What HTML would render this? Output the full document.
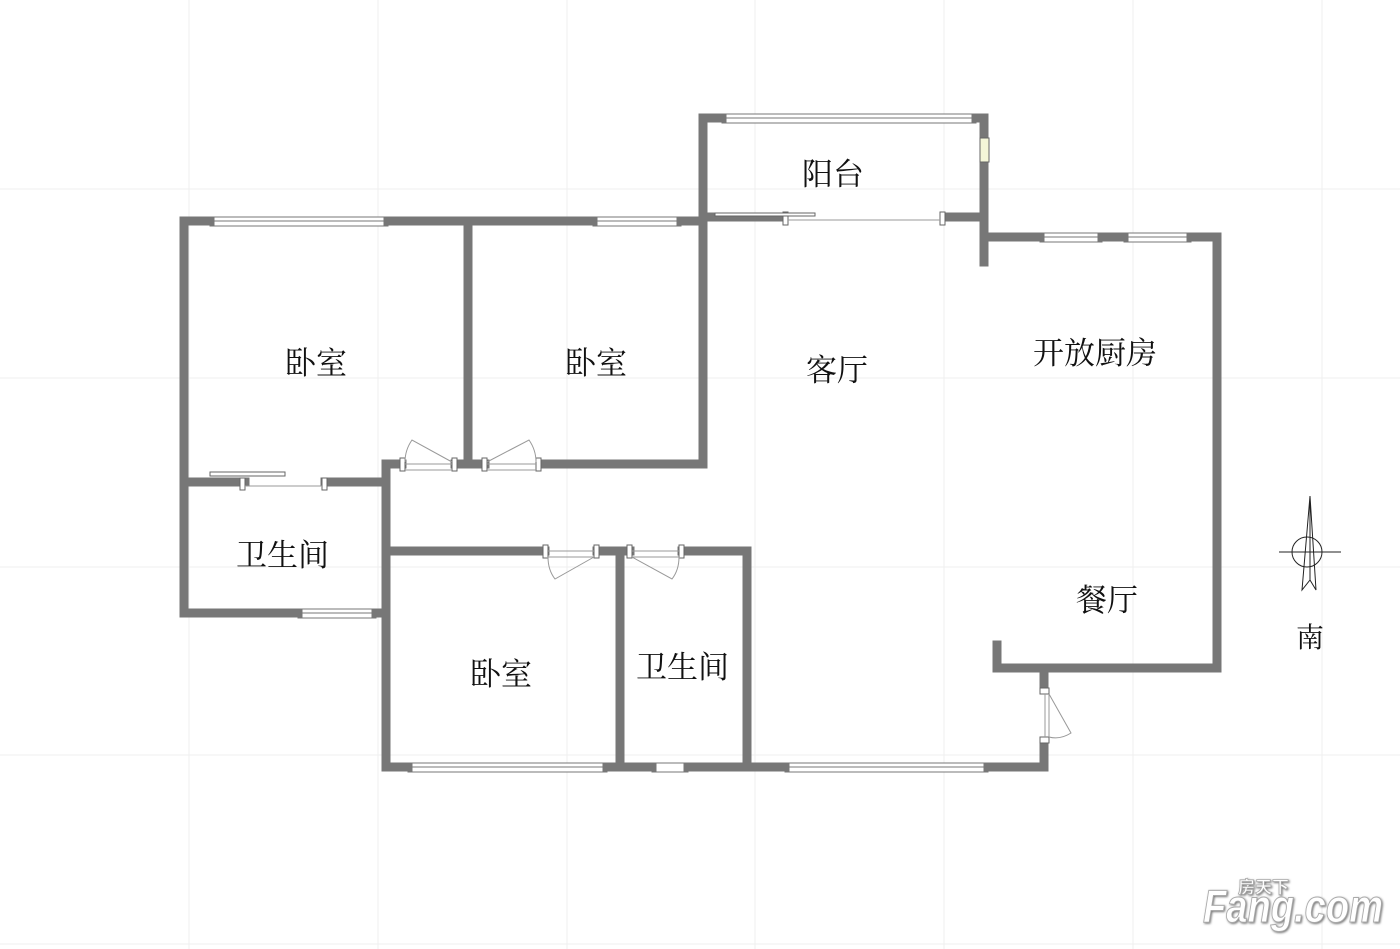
<!DOCTYPE html>
<html><head><meta charset="utf-8"><style>
html,body{margin:0;padding:0;background:#fff;}
svg{display:block;}
text{font-family:"Liberation Serif","Noto Serif CJK SC",serif;fill:#111;font-size:31px;}
</style></head><body>
<svg width="1400" height="949" viewBox="0 0 1400 949" xmlns="http://www.w3.org/2000/svg">
<g stroke="#efefef" stroke-width="1">
<line x1="189" y1="0" x2="189" y2="949"/><line x1="378" y1="0" x2="378" y2="949"/><line x1="567" y1="0" x2="567" y2="949"/><line x1="755" y1="0" x2="755" y2="949"/><line x1="944" y1="0" x2="944" y2="949"/><line x1="1133" y1="0" x2="1133" y2="949"/><line x1="1322" y1="0" x2="1322" y2="949"/>
<line x1="0" y1="189" x2="1400" y2="189"/><line x1="0" y1="378" x2="1400" y2="378"/><line x1="0" y1="567" x2="1400" y2="567"/><line x1="0" y1="755" x2="1400" y2="755"/><line x1="0" y1="944" x2="1400" y2="944"/>
</g>
<g fill="#fff" stroke="#777" stroke-width="1">
<rect x="210" y="217" width="178" height="9"/><line x1="212" y1="221" x2="386" y2="221"/>
<rect x="593" y="217" width="88" height="9"/><line x1="595" y1="221" x2="679" y2="221"/>
<rect x="722" y="114" width="254" height="9"/><line x1="724" y1="118" x2="974" y2="118"/>
<rect x="1040" y="233" width="62" height="9"/><line x1="1042" y1="237" x2="1100" y2="237"/>
<rect x="1124" y="233" width="67" height="9"/><line x1="1126" y1="237" x2="1189" y2="237"/>
<rect x="298" y="609" width="78" height="9"/><line x1="300" y1="613" x2="374" y2="613"/>
<rect x="408" y="763" width="199" height="9"/><line x1="410" y1="767" x2="605" y2="767"/>
<rect x="652" y="763" width="36" height="9"/>
<rect x="785" y="763" width="203" height="9"/><line x1="787" y1="767" x2="986" y2="767"/>
</g>
<g stroke="#777" stroke-width="9" fill="none" stroke-linecap="square">
<line x1="184" y1="221" x2="210" y2="221"/><line x1="388" y1="221" x2="593" y2="221"/><line x1="681" y1="221" x2="703" y2="221"/>
<line x1="184" y1="221" x2="184" y2="613"/>
<line x1="468" y1="221" x2="468" y2="464"/>
<line x1="703" y1="118" x2="703" y2="464"/>
<line x1="703" y1="118" x2="722" y2="118"/><line x1="976" y1="118" x2="984" y2="118"/>
<line x1="984" y1="118" x2="984" y2="262"/>
<line x1="703" y1="217" x2="783" y2="217"/><line x1="944" y1="217" x2="984" y2="217"/>
<line x1="984" y1="237" x2="1040" y2="237"/><line x1="1102" y1="237" x2="1124" y2="237"/><line x1="1191" y1="237" x2="1217" y2="237"/>
<line x1="1217" y1="237" x2="1217" y2="668"/>
<line x1="997" y1="645" x2="997" y2="668"/><line x1="997" y1="668" x2="1217" y2="668"/>
<line x1="1044" y1="668" x2="1044" y2="688"/><line x1="1044" y1="743" x2="1044" y2="767"/>
<line x1="540" y1="464" x2="703" y2="464"/>
<line x1="455" y1="464" x2="485" y2="464"/>
<line x1="386" y1="464" x2="402" y2="464"/>
<line x1="386" y1="464" x2="386" y2="767"/>
<line x1="184" y1="482" x2="245" y2="482"/><line x1="325" y1="482" x2="386" y2="482"/>
<line x1="184" y1="613" x2="298" y2="613"/><line x1="376" y1="613" x2="386" y2="613"/>
<line x1="386" y1="551" x2="545" y2="551"/><line x1="597" y1="551" x2="630" y2="551"/><line x1="682" y1="551" x2="747" y2="551"/>
<line x1="620" y1="551" x2="620" y2="767"/>
<line x1="747" y1="551" x2="747" y2="767"/>
<line x1="386" y1="767" x2="408" y2="767"/><line x1="607" y1="767" x2="652" y2="767"/><line x1="688" y1="767" x2="785" y2="767"/><line x1="988" y1="767" x2="1044" y2="767"/>
</g>
<g stroke="#666" stroke-width="1" fill="#fff">
<rect x="400" y="458" width="5" height="13"/><rect x="452" y="458" width="5" height="13"/>
<rect x="482" y="458" width="5" height="13"/><rect x="536" y="458" width="5" height="13"/>
<rect x="543" y="545" width="5" height="13"/><rect x="594" y="545" width="5" height="13"/>
<rect x="627" y="545" width="5" height="13"/><rect x="679" y="545" width="5" height="13"/>
<rect x="1040" y="688" width="9" height="6"/><rect x="1040" y="737" width="9" height="6"/>
<rect x="240" y="478" width="5" height="12"/><rect x="322" y="478" width="5" height="12"/>
<rect x="783" y="212" width="5" height="13"/><rect x="940" y="212" width="5" height="13"/>
<rect x="210" y="472" width="75" height="4"/>
<rect x="715" y="213" width="100" height="3"/>
<rect x="980" y="138" width="9" height="24" fill="#f4f6d8"/>
</g>
<g stroke="#999" stroke-width="1" fill="none">
<path d="M405 464 L452 464 M405 470 L452 470 M487 464 L536 464 M487 470 L536 470"/>
<path d="M452 462 L412 440 Q405 450 405 462"/>
<path d="M487 462 L529 440 Q536 450 536 462"/>
<path d="M548 551 L594 551 M548 557 L594 557 M632 551 L679 551 M632 557 L679 557"/>
<path d="M594 557 L555 579 Q548 570 548 557"/>
<path d="M632 557 L672 579 Q679 570 679 557"/>
<path d="M1045 694 L1045 737 M1049 694 L1049 737"/>
<path d="M1049 694 L1071 733 Q1060 740 1049 737"/>
<path d="M245 486 L322 486 M788 220 L940 220"/>
</g>
<g stroke="#222" stroke-width="1" fill="none">
<circle cx="1307" cy="552" r="15"/>
<line x1="1279" y1="552" x2="1341" y2="552"/>
<path d="M1310 496 L1302 590 L1310 580 L1316 590 Z"/>
<line x1="1310" y1="500" x2="1310" y2="580"/>
</g>
<text x="1296" y="647" style="font-size:28px">南</text>
<text x="285" y="374">卧室</text>
<text x="565" y="374">卧室</text>
<text x="806" y="381">客厅</text>
<text x="802" y="185">阳台</text>
<text x="1033" y="364">开放厨房</text>
<text x="236" y="566">卫生间</text>
<text x="470" y="685">卧室</text>
<text x="636" y="678">卫生间</text>
<text x="1076" y="611">餐厅</text>
<g style="filter:drop-shadow(1px 1px 1px #777)">
<text x="1203" y="922" textLength="180" lengthAdjust="spacingAndGlyphs" style="font-family:'Liberation Sans',sans-serif;font-weight:bold;font-style:italic;font-size:46px;fill:#fff;stroke:#aaa;stroke-width:1">Fang.com</text>
<text x="1238" y="893" style="font-family:'Liberation Sans','Noto Sans CJK SC',sans-serif;font-weight:bold;font-size:17px;fill:#fff;stroke:#aaa;stroke-width:0.8">房天下</text>
</g>
</svg>
</body></html>
